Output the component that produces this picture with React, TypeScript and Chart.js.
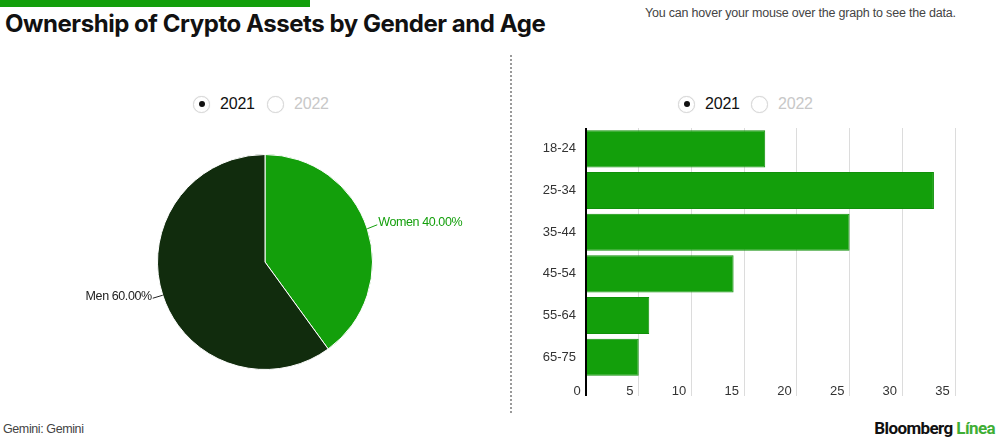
import React, { useEffect, useRef } from "react";
import { Chart, registerables } from "chart.js";

Chart.register(...registerables);

const genderLabels = ["Women", "Men"];
const genderValues = [40, 60];
const genderColors = ["#139f0b", "#112c0d"];
const genderTextColors = ["#139f0b", "#222222"];

const ageLabels = ["18-24", "25-34", "35-44", "45-54", "55-64", "65-75"];
const ageValues = [17, 33, 25, 14, 6, 5];
const xTicks = [0, 5, 10, 15, 20, 25, 30, 35];
const years = ["2021", "2022"];

const FONT = "'Liberation Sans', Arial, sans-serif";

const pieLabelPlugin = {
  id: "pieLabels",
  afterDraw(chart: any) {
    const ctx = chart.ctx;
    const meta = chart.getDatasetMeta(0);
    const total = genderValues.reduce((a, b) => a + b, 0);
    meta.data.forEach((arc: any, i: number) => {
      const { x, y, startAngle, endAngle, outerRadius } = arc.getProps(
        ["x", "y", "startAngle", "endAngle", "outerRadius"],
        true
      );
      const mid = (startAngle + endAngle) / 2;
      const cos = Math.cos(mid);
      const sin = Math.sin(mid);
      const x0 = x + cos * outerRadius;
      const y0 = y + sin * outerRadius;
      const right = cos >= 0;
      const x1 = x0 + (right ? 10 : -10);
      const y1 = y0 + (right ? -4 : 3);
      ctx.save();
      ctx.strokeStyle = genderTextColors[i];
      ctx.lineWidth = 1;
      ctx.beginPath();
      ctx.moveTo(x0, y0);
      ctx.lineTo(x1, y1);
      ctx.stroke();
      ctx.font = `12.5px ${FONT}`;
      try { (ctx as any).letterSpacing = "-0.4px"; } catch (e) {}
      ctx.fillStyle = genderTextColors[i];
      ctx.textBaseline = "middle";
      ctx.textAlign = right ? "left" : "right";
      const pct = ((genderValues[i] / total) * 100).toFixed(2) + "%";
      ctx.fillText(`${genderLabels[i]} ${pct}`, x1 + (right ? 1 : -1), y1 - 2);
      ctx.restore();
    });
  },
};

function Radio({ left, top, label, active }: any) {
  return (
    <div style={{ position: "absolute", left, top, height: 20, display: "flex", alignItems: "center" }}>
      <div
        style={{
          width: 17,
          height: 17,
          borderRadius: "50%",
          border: "1px solid #d8d8d8",
          boxSizing: "border-box",
          boxShadow: "0 0 1px rgba(0,0,0,0.15)",
          display: "flex",
          alignItems: "center",
          justifyContent: "center",
          background: "#fff",
        }}
      >
        {active ? <div style={{ width: 6, height: 6, borderRadius: "50%", background: "#111" }} /> : null}
      </div>
      <span
        style={{
          marginLeft: 10,
          fontFamily: FONT,
          fontSize: 16,
          color: active ? "#111" : "#c8c8c8",
          letterSpacing: "-0.2px",
        }}
      >
        {label}
      </span>
    </div>
  );
}

export default function App() {
  const pieRef = useRef<HTMLCanvasElement>(null);
  const barRef = useRef<HTMLCanvasElement>(null);

  useEffect(() => {
    const pie = new Chart(pieRef.current!, {
      type: "pie",
      data: {
        labels: genderLabels,
        datasets: [
          {
            data: genderValues,
            backgroundColor: genderColors,
            borderColor: "#ffffff",
            borderWidth: 1,
          },
        ],
      },
      options: {
        responsive: false,
        animation: false,
        layout: { padding: { top: 4, bottom: 4 } },
        plugins: { legend: { display: false }, tooltip: { enabled: false } },
      },
      plugins: [pieLabelPlugin],
    });

    const bar = new Chart(barRef.current!, {
      type: "bar",
      data: {
        labels: ageLabels,
        datasets: [
          {
            data: ageValues,
            backgroundColor: "#139f0b",
            borderColor: "#10900a",
            borderWidth: 1,
            barPercentage: 0.89,
            categoryPercentage: 1,
          },
        ],
      },
      options: {
        indexAxis: "y",
        responsive: false,
        animation: false,
        layout: { padding: { top: 8, right: 10, left: 0, bottom: 0 } },
        plugins: { legend: { display: false }, tooltip: { enabled: false } },
        scales: {
          x: {
            min: 0,
            max: 35,
            afterBuildTicks: (scale: any) => {
              scale.ticks = xTicks.map((v) => ({ value: v }));
            },
            afterFit: (scale: any) => {
              scale.height = 32;
              scale.paddingLeft = 0;
              scale.paddingRight = 0;
            },
            border: { display: false },
            grid: {
              color: (c: any) => (c.tick && c.tick.value === 0 ? "#000000" : "#dcdcdc"),
              lineWidth: (c: any) => (c.tick && c.tick.value === 0 ? 2 : 1),
              tickLength: 18,
            },
            ticks: {
              align: "end",
              padding: -12,
              color: "#333",
              font: { family: FONT, size: 13 },
              callback: (v: any) => `${v}\u2009\u2009`,
            },
          },
          y: {
            afterFit: (scale: any) => {
              scale.width = 66;
              scale.paddingTop = 0;
              scale.paddingBottom = 0;
            },
            border: { display: false },
            grid: { display: false, drawTicks: false },
            ticks: {
              padding: 10,
              color: "#333",
              font: { family: FONT, size: 13 },
            },
          },
        },
      },
    });

    return () => {
      pie.destroy();
      bar.destroy();
    };
  }, []);

  return (
    <div
      style={{
        position: "absolute",
        left: 0,
        top: 0,
        width: 1000,
        height: 441,
        background: "#fff",
        overflow: "hidden",
      }}
    >
      <div style={{ position: "absolute", left: 0, top: 0, width: 310, height: 7, background: "#139f0b" }} />
      <div
        style={{
          position: "absolute",
          left: 5,
          top: 12,
          fontFamily: "Inter, 'Liberation Sans', sans-serif",
          fontWeight: 700,
          fontSize: 24,
          lineHeight: "24px",
          letterSpacing: "-0.45px",
          color: "#111",
          whiteSpace: "nowrap",
        }}
      >
        Ownership of Crypto Assets by Gender and Age
      </div>
      <div
        style={{
          position: "absolute",
          left: 645,
          top: 5,
          fontFamily: FONT,
          fontSize: 12.5,
          lineHeight: "16px",
          letterSpacing: "-0.2px",
          color: "#444",
          whiteSpace: "nowrap",
        }}
      >
        You can hover your mouse over the graph to see the data.
      </div>
      <div
        style={{
          position: "absolute",
          left: 510,
          top: 55,
          height: 358,
          width: 0,
          borderLeft: "2px dotted #9a9a9a",
        }}
      />
      <Radio left={193} top={94} label={years[0]} active />
      <Radio left={267} top={94} label={years[1]} active={false} />
      <Radio left={678} top={94} label={years[0]} active />
      <Radio left={751} top={94} label={years[1]} active={false} />
      <canvas
        ref={pieRef}
        width={410}
        height={224}
        style={{ position: "absolute", left: 60, top: 150, width: 410, height: 224 }}
      />
      <canvas
        ref={barRef}
        width={445}
        height={290}
        style={{ position: "absolute", left: 520, top: 120, width: 445, height: 290 }}
      />
      <div
        style={{
          position: "absolute",
          left: 3,
          top: 421,
          fontFamily: FONT,
          fontSize: 12.5,
          lineHeight: "16px",
          letterSpacing: "-0.4px",
          color: "#444",
        }}
      >
        Gemini: Gemini
      </div>
      <div
        style={{
          position: "absolute",
          right: 5,
          top: 418,
          fontFamily: "Roboto, 'Liberation Sans', sans-serif",
          fontWeight: 700,
          fontSize: 17,
          lineHeight: "20px",
          letterSpacing: "-0.6px",
          whiteSpace: "nowrap",
        }}
      >
        <span style={{ color: "#111" }}>Bloomberg</span>{" "}
        <span style={{ color: "#3fae35" }}>Línea</span>
      </div>
    </div>
  );
}
